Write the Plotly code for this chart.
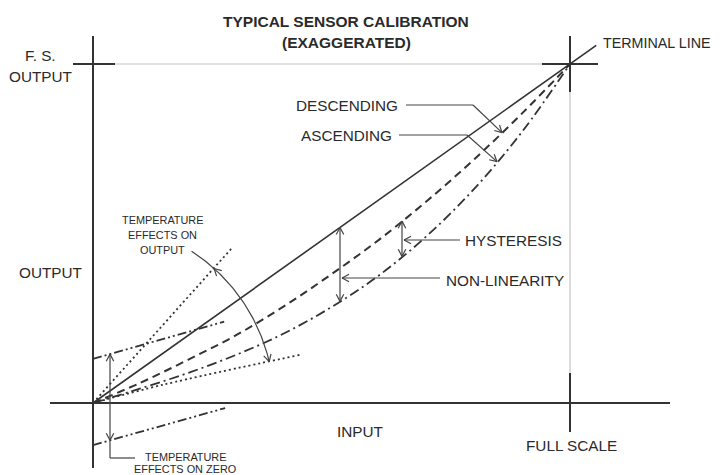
import numpy as np
import plotly.graph_objects as go

# ---------------- data (normalised: 0 = origin, 1 = full scale) ----------------
X_PTS = [0.0, 0.1, 0.2, 0.3, 0.4, 0.5, 0.6, 0.7, 0.8, 0.9, 1.0]
TERMINAL_X = [0.0, 1.055]
TERMINAL_Y = [0.0, 1.055]
DESCENDING = [0.0, 0.060, 0.128, 0.200, 0.285, 0.380, 0.482, 0.596, 0.720, 0.855, 1.0]
ASCENDING = [0.0, 0.043, 0.089, 0.142, 0.205, 0.283, 0.377, 0.493, 0.633, 0.801, 1.0]
TEMP_OUT_HIGH_X = [0.0, 0.291]
TEMP_OUT_HIGH_Y = [0.0, 0.457]
TEMP_OUT_LOW_X = [0.0, 0.15, 0.434]
TEMP_OUT_LOW_Y = [0.0, 0.055, 0.142]
TEMP_ZERO_UP_X = [0.0, 0.275]
TEMP_ZERO_UP_Y = [0.130, 0.240]
TEMP_ZERO_DN_X = [0.0, 0.277]
TEMP_ZERO_DN_Y = [-0.124, -0.015]

# ---------------- pixel helpers (page pixels; the page body has an 8px margin) ----------------
PAGE_W, PAGE_H = 723, 475
OFF = 8
W, H = PAGE_W - OFF, PAGE_H - OFF
X0, Y0, SX, SY = 93, 403, 477, 339


def dx(px):
    return (px - X0) / SX


def dy(py):
    return (Y0 - py) / SY


def px_of(x):
    return X0 + x * SX


def py_of(y):
    return Y0 - y * SY


FONT = "Liberation Sans, Arial, sans-serif"
INK = "#333333"
ARROW = "#444444"
GREY = "#c4c4c4"

fig = go.Figure()
shapes = []
annotations = []


def seg(p1, p2, color=INK, width=1.2, dash="solid"):
    shapes.append(dict(type="line", xref="x", yref="y",
                       x0=dx(p1[0]), y0=dy(p1[1]), x1=dx(p2[0]), y1=dy(p2[1]),
                       line=dict(color=color, width=width, dash=dash)))


def head(tip, frm, L=8, ang=28, color=ARROW, width=1.2):
    d = np.array(tip, float) - np.array(frm, float)
    d = d / np.linalg.norm(d)
    for s in (+1, -1):
        a = np.radians(s * ang)
        r = np.array([d[0] * np.cos(a) - d[1] * np.sin(a),
                      d[0] * np.sin(a) + d[1] * np.cos(a)])
        p = np.array(tip) - L * r
        seg(tip, p, color, width)


def text(s, px, py, size=15.3, anchor="center", bold=False, color="#2a2a2a"):
    annotations.append(dict(x=dx(px), y=dy(py), xref="x", yref="y", text=("<b>%s</b>" % s) if bold else s,
                            showarrow=False, xanchor=anchor, yanchor="middle",
                            font=dict(family=FONT, size=size, color=color)))


# ---------------- reference frame ----------------
FS_PY = py_of(1.0)
FS_PX = px_of(1.0)
seg((115, FS_PY), (542, FS_PY), GREY, 1.2)
seg((FS_PX, 92), (FS_PX, 373), GREY, 1.2)
seg((X0, 36), (X0, 468), INK, 2)
seg((50, Y0), (670, Y0), INK, 2)
seg((73, FS_PY), (115, FS_PY), INK, 2)
seg((542, FS_PY), (598, FS_PY), INK, 2)
seg((FS_PX, 36), (FS_PX, 92), INK, 2)
seg((FS_PX, 373), (FS_PX, 432), INK, 2)

# ---------------- curves ----------------
fig.add_trace(go.Scatter(x=TERMINAL_X, y=TERMINAL_Y, mode="lines",
                         line=dict(color=INK, width=1.6), hoverinfo="skip"))
fig.add_trace(go.Scatter(x=X_PTS, y=DESCENDING, mode="lines", line_shape="spline",
                         line=dict(color=INK, width=2, dash="8px,5px"), hoverinfo="skip"))
fig.add_trace(go.Scatter(x=X_PTS, y=ASCENDING, mode="lines", line_shape="spline",
                         line=dict(color=INK, width=1.8, dash="10px,4px,2px,4px"), hoverinfo="skip"))
fig.add_trace(go.Scatter(x=TEMP_OUT_HIGH_X, y=TEMP_OUT_HIGH_Y, mode="lines",
                         line=dict(color=INK, width=1.8, dash="2px,3px"), hoverinfo="skip"))
fig.add_trace(go.Scatter(x=TEMP_OUT_LOW_X, y=TEMP_OUT_LOW_Y, mode="lines", line_shape="spline",
                         line=dict(color=INK, width=1.8, dash="2px,3px"), hoverinfo="skip"))
for xs, ys in ((TEMP_ZERO_UP_X, TEMP_ZERO_UP_Y), (TEMP_ZERO_DN_X, TEMP_ZERO_DN_Y)):
    fig.add_trace(go.Scatter(x=xs, y=ys, mode="lines",
                             line=dict(color=INK, width=1.8, dash="9px,3px,2px,3px,2px,3px"),
                             hoverinfo="skip"))

# ---------------- arrows ----------------
def desc_at(x):
    return float(np.interp(x, X_PTS, DESCENDING))


def asc_at(x):
    return float(np.interp(x, X_PTS, ASCENDING))


# non-linearity double arrow
nx = dx(340)
top = (340, py_of(nx))
bot = (340, py_of(asc_at(nx)))
seg(top, bot, ARROW)
head(top, bot)
head(bot, top)
seg((440, 278), (342, 278), ARROW)
head((342, 278), (360, 278))

# hysteresis double arrow
hx = dx(402)
top = (402, py_of(desc_at(hx)))
bot = (402, py_of(asc_at(hx)))
seg(top, bot, ARROW)
head(top, bot)
head(bot, top)
seg((460, 240), (404, 240), ARROW)
head((404, 240), (420, 240))

# descending / ascending leaders
tip_d = (502, py_of(desc_at(dx(502))))
seg((406, 105), (473, 105), ARROW)
seg((473, 105), tip_d, ARROW)
head(tip_d, (473, 105))
tip_a = (497, py_of(asc_at(dx(497))))
seg((399, 135), (467, 135), ARROW)
seg((467, 135), tip_a, ARROW)
head(tip_a, (467, 135))

# temperature effects on zero
zx = dx(110)
zt = (110, py_of(float(np.interp(zx, TEMP_ZERO_UP_X, TEMP_ZERO_UP_Y))))
zb = (110, py_of(float(np.interp(zx, TEMP_ZERO_DN_X, TEMP_ZERO_DN_Y))))
seg(zt, zb, ARROW)
head(zt, zb)
head(zb, zt)
seg(zb, (110, 458), ARROW)
seg((110, 458), (135, 458), ARROW)

# temperature effects on output arc (centred on origin)
R = 181
angs = np.radians(np.linspace(57, 13.2, 60))
apx = X0 + R * np.cos(angs)
apy = Y0 - R * np.sin(angs)
fig.add_trace(go.Scatter(x=[dx(p) for p in apx], y=[dy(p) for p in apy], mode="lines",
                         line=dict(color=ARROW, width=1.2), hoverinfo="skip"))


def arc_pt(deg):
    a = np.radians(deg)
    return (X0 + R * np.cos(a), Y0 - R * np.sin(a))


head(arc_pt(48.0), arc_pt(44.0))
head(arc_pt(13.2), arc_pt(17.2))

# ---------------- texts ----------------
text("TYPICAL SENSOR CALIBRATION", 346, 21, 15.5, bold=True)
text("(EXAGGERATED)", 346, 42, 15.5, bold=True)
text("F. S.", 40, 55)
text("OUTPUT", 40, 76)
text("OUTPUT", 50, 272)
text("INPUT", 360, 431)
text("FULL SCALE", 571, 445)
text("TERMINAL LINE", 601, 43, 14.3, anchor="left")
text("DESCENDING", 400, 105, anchor="right")
text("ASCENDING", 394, 135, anchor="right")
text("HYSTERESIS", 463, 240, anchor="left")
text("NON-LINEARITY", 444, 280, anchor="left")
text("TEMPERATURE", 162, 220, 10.9)
text("EFFECTS ON", 162, 235, 10.9)
text("OUTPUT", 162, 250, 10.9)
text("TEMPERATURE", 185, 457, 10.9)
text("EFFECTS ON ZERO", 185, 469, 10.9)

fig.update_layout(
    width=W, height=H, margin=dict(l=0, r=0, t=0, b=0),
    paper_bgcolor="white", plot_bgcolor="white", showlegend=False,
    xaxis=dict(range=[dx(OFF), dx(OFF + W)], visible=False, fixedrange=True),
    yaxis=dict(range=[dy(OFF + H), dy(OFF)], visible=False, fixedrange=True),
    shapes=shapes, annotations=annotations,
)
fig.write_html("out.html")
